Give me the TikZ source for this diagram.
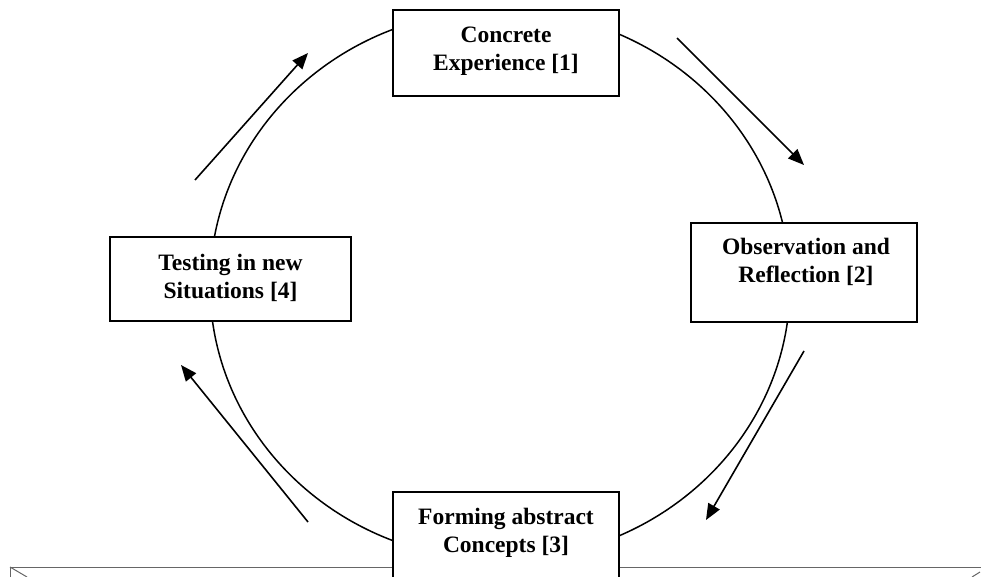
\documentclass[tikz,border=0pt]{standalone}
\usepackage{fontspec}
\setmainfont{Liberation Serif}
\usetikzlibrary{arrows.meta}
\begin{document}
\begin{tikzpicture}[x=1pt,y=-1pt,
  box/.style={draw=black,line width=1.8pt,fill=white,inner sep=0pt},
  lbl/.style={align=center,inner sep=0pt,font=\bfseries\fontsize{23.5}{27.5}\selectfont},
  flow/.style={line width=1.6pt,-{Triangle[length=16pt,width=13pt]}},
  cyc/.style={line width=1.5pt}]
\useasboundingbox (0,0) rectangle (981,577);

% frame line along the bottom edge
\coordinate (fl) at (10,567);
\coordinate (fr) at (981,567);
\draw[gray!80!black,line width=1pt] (fl) -- (fr);
\draw[gray!80!black,line width=1pt] (fl) -- ++(0,10);
\draw[gray!80!black,line width=1pt] (fl) -- ++(17,10);
\draw[gray!80!black,line width=1pt] (972,577) -- (980,572);

% the cycle
\draw[cyc] (500,285) ellipse [x radius=290,y radius=275];

% stage boxes
\node[box,minimum width=226pt,minimum height=86pt] (b1) at (506,53) {};
\node[box,minimum width=226pt,minimum height=99pt] (b2) at (804,272.5) {};
\node[box,minimum width=226pt,minimum height=86pt] (b3) at (506,535) {};
\node[box,minimum width=241pt,minimum height=84pt] (b4) at (230.5,279) {};

\node[lbl] (t1) at (506,51) {Concrete\\Experience [1]};
\node[lbl] (t2) at (806,262) {Observation and\\Reflection [2]};
\node[lbl] (t3) at (506,533) {Forming abstract\\Concepts [3]};
\node[lbl] (t4) at (230.5,278) {Testing in new\\Situations [4]};

% direction arrows
\coordinate (a1s) at (677,38);  \coordinate (a1e) at (804,165);
\coordinate (a2s) at (804,351); \coordinate (a2e) at (706,520);
\coordinate (a3s) at (308,522); \coordinate (a3e) at (181,365);
\coordinate (a4s) at (195,180); \coordinate (a4e) at (308,53);
\draw[flow] (a1s) -- (a1e);
\draw[flow] (a2s) -- (a2e);
\draw[flow] (a3s) -- (a3e);
\draw[flow] (a4s) -- (a4e);
\end{tikzpicture}
\end{document}
